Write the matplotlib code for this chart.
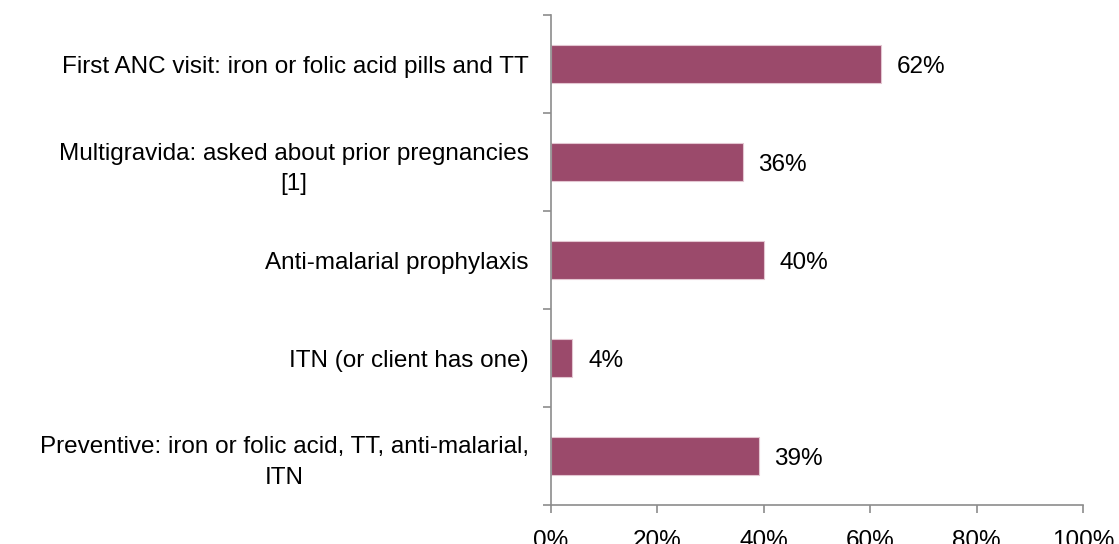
import matplotlib
matplotlib.use("Agg")
import matplotlib.pyplot as plt
from matplotlib.ticker import FuncFormatter, FixedLocator

plt.rcParams['font.family'] = ['Liberation Sans', 'DejaVu Sans']

categories = [
    "First ANC visit: iron or folic acid pills and TT",
    "Multigravida: asked about prior pregnancies\n[1]",
    "Anti-malarial prophylaxis",
    "ITN (or client has one)",
    "Preventive: iron or folic acid, TT, anti-malarial,\nITN",
]
values = [62, 36, 40, 4, 39]
xticks = [0, 20, 40, 60, 80, 100]

bar_color = "#9B4A6B"
axis_color = "#8C8C8C"

fig = plt.figure(figsize=(11.19, 5.44), dpi=100)
ax = fig.add_axes([0.4924, 0.0717, 0.968 - 0.4924, 0.9724 - 0.0717])

n = len(categories)
pos = list(range(n))
ax.barh(pos, values, height=0.39, color=bar_color, edgecolor="#E3C6D1", linewidth=0.8)
ax.set_ylim(n - 0.5, -0.5)
ax.set_xlim(0, 100)

for p, v in zip(pos, values):
    ax.text(v + 3, p + 0.03, f"{v}%", va="center", ha="left", fontsize=17.5, color="black")

ax.set_yticks(pos)
ax.set_yticklabels(categories, fontsize=17.5, ha="right")
ax.tick_params(axis="y", length=0, pad=16)
for lbl in ax.get_yticklabels():
    lbl.set_multialignment("center")
    lbl.set_linespacing(1.5)

# minor ticks at category boundaries
ax.yaxis.set_minor_locator(FixedLocator([i - 0.5 for i in range(n + 1)]))
ax.tick_params(axis="y", which="minor", length=6, width=1.2, color=axis_color, direction="out")

ax.set_xticks(xticks)
ax.xaxis.set_major_formatter(FuncFormatter(lambda x, _: f"{int(x)}%"))
ax.tick_params(axis="x", length=6, width=1.2, color=axis_color, direction="out", labelsize=17.5, pad=12)

for s in ["top", "right"]:
    ax.spines[s].set_visible(False)
for s in ["left", "bottom"]:
    ax.spines[s].set_color(axis_color)
    ax.spines[s].set_linewidth(1.2)

fig.savefig("out.png", dpi=100)
